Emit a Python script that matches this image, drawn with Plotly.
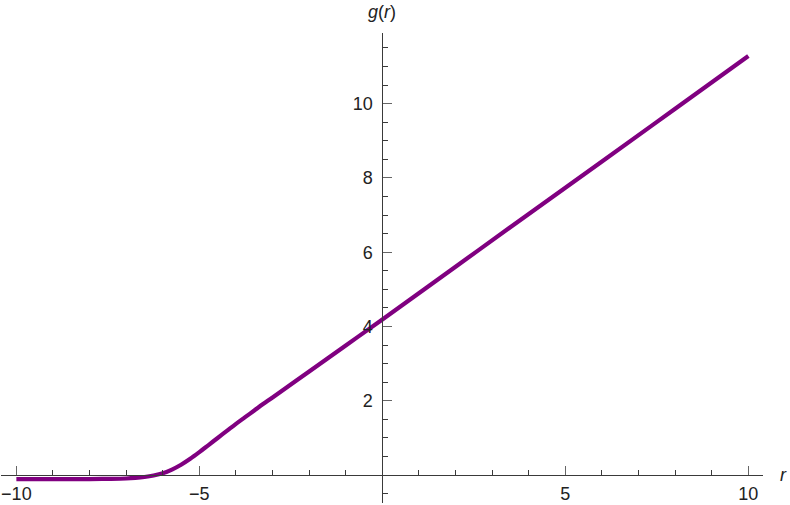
import plotly.graph_objects as go

# values
r_vals = [-10, -9, -8, -7.5, -7, -6.75, -6.5, -6.25, -6, -5.75, -5.5, -5.25, -5, -4.75, -4.5,
          -4.25, -4, -3.75, -3.5, -3.25, -3, -2, -1, 0, 2, 4, 6, 8, 10]
g_vals = [-0.11, -0.11, -0.105, -0.10, -0.09, -0.075, -0.05, -0.01, 0.05, 0.15, 0.28, 0.44, 0.62, 0.81, 1.00,
          1.19, 1.38, 1.56, 1.74, 1.92, 2.09, 2.79, 3.49, 4.19, 5.61, 7.03, 8.44, 9.86, 11.28]

x_major = [-10, -5, 5, 10]
x_major_text = ["\u221210", "\u22125", "5", "10"]
x_minor = [-9, -8, -7, -6, -4, -3, -2, -1, 1, 2, 3, 4, 6, 7, 8, 9]
y_major = [2, 4, 6, 8, 10]
y_major_text = ["2", "4", "6", "8", "10"]
y_minor = [-0.5, 0.5, 1, 1.5, 2.5, 3, 3.5, 4.5, 5, 5.5, 6.5, 7, 7.5, 8.5, 9, 9.5,
           10.5, 11, 11.5]

x_range = [-10.42, 10.4]
y_range = [-0.75, 11.9]

FONT = "Liberation Sans, Arial, sans-serif"
AXC = "#3a3a3a"
TKC = "#666666"

fig = go.Figure()
fig.add_trace(go.Scatter(
    x=r_vals, y=g_vals, mode="lines",
    line=dict(color="#800080", width=4.2, shape="spline", smoothing=1),
    hoverinfo="skip", showlegend=False,
))

xpos = (0 - y_range[0]) / (y_range[1] - y_range[0])
ypos = (0 - x_range[0]) / (x_range[1] - x_range[0])

fig.update_layout(
    width=790, height=505,
    margin=dict(l=1, r=27, t=33, b=2, autoexpand=False),
    paper_bgcolor="white", plot_bgcolor="white",
    font=dict(family=FONT, size=18, color="#222222"),
    hovermode=False,
    xaxis=dict(
        range=x_range, anchor="free", position=xpos, automargin=False,
        showgrid=False, zeroline=False, fixedrange=True,
        showline=True, linecolor=AXC, linewidth=1,
        tickmode="array", tickvals=x_major, ticktext=x_major_text,
        ticks="inside", ticklen=9, tickwidth=1, tickcolor=TKC,
        ticklabelstandoff=2,
        minor=dict(tickmode="array", tickvals=x_minor, ticks="inside",
                   ticklen=5, tickwidth=1, tickcolor=AXC, showgrid=False),
        tickfont=dict(family=FONT, size=18, color="#222222"),
    ),
    yaxis=dict(
        range=y_range, anchor="free", position=ypos, automargin=False,
        showgrid=False, zeroline=False, fixedrange=True,
        showline=True, linecolor=AXC, linewidth=1,
        tickmode="array", tickvals=y_major, ticktext=y_major_text,
        ticks="inside", ticklen=9, tickwidth=1, tickcolor=TKC,
        ticklabelstandoff=6,
        minor=dict(tickmode="array", tickvals=y_minor, ticks="inside",
                   ticklen=5, tickwidth=1, tickcolor=AXC, showgrid=False),
        tickfont=dict(family=FONT, size=18, color="#222222"),
    ),
    annotations=[
        dict(text="<i>g</i>(<i>r</i>)", xref="x", yref="paper", x=0, y=1,
             yshift=9, xanchor="center", yanchor="bottom", showarrow=False,
             font=dict(family=FONT, size=18, color="#222222")),
        dict(text="<i>r</i>", xref="paper", yref="y", x=1, y=0,
             xshift=20, xanchor="center", yanchor="middle", showarrow=False,
             font=dict(family=FONT, size=18, color="#222222")),
    ],
)

fig.write_html("out.html", config={"displayModeBar": False, "staticPlot": True},
               post_script="document.body.style.margin='0';")
